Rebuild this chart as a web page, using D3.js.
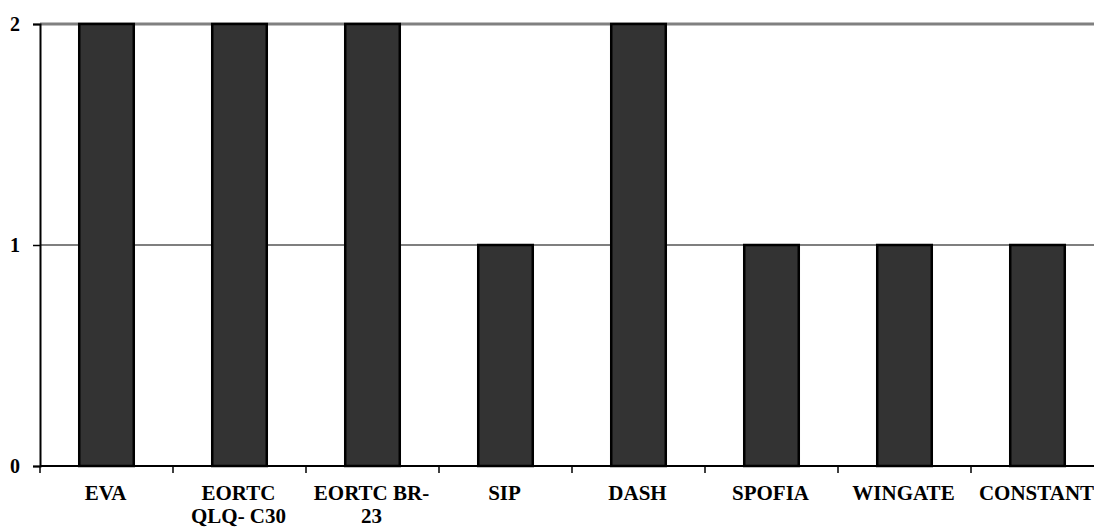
<!DOCTYPE html>
<html>
<head>
<meta charset="utf-8">
<script src="https://cdn.jsdelivr.net/npm/d3@7"></script>
<style>
  html, body { margin: 0; padding: 0; background: #fff; }
  svg { display: block; }
</style>
</head>
<body>
<svg id="chart" width="1094" height="527"></svg>
<script>
// Instruments and number of studies using each
const categories = ["EVA", "EORTC QLQ- C30", "EORTC BR-23", "SIP", "DASH", "SPOFIA", "WINGATE", "CONSTANT"];
const labelLines = [["EVA"], ["EORTC", "QLQ- C30"], ["EORTC BR-", "23"], ["SIP"], ["DASH"], ["SPOFIA"], ["WINGATE"], ["CONSTANT"]];
const values = [2, 2, 2, 1, 2, 1, 1, 1];
const yTicks = [0, 1, 2];

(function drawChart() {
  const font = "'Liberation Serif', 'Times New Roman', serif";
  const svg = d3.select("#chart");
  const m = { left: 40, right: 1104, top: 24, bottom: 466 };

  const x = d3.scaleBand().domain(categories).range([m.left, m.right]).paddingInner(0.59).paddingOuter(0.295);
  const xTicks = d3.scaleBand().domain(categories).range([m.left, m.right]);
  const y = d3.scaleLinear().domain([0, 2]).range([m.bottom, m.top]);

  // Horizontal gridlines (top one drawn grey and heavier)
  svg.append("g").selectAll("line").data(yTicks.filter(d => d > 0)).join("line")
    .attr("x1", m.left).attr("x2", 1094)
    .attr("y1", d => y(d)).attr("y2", d => y(d))
    .attr("stroke", d => d === 2 ? "#808080" : "#000")
    .attr("stroke-width", d => d === 2 ? 3 : 1.2);

  // Bars
  svg.append("g").selectAll("rect").data(values).join("rect")
    .attr("x", (d, i) => x(categories[i]))
    .attr("y", d => y(d))
    .attr("width", x.bandwidth())
    .attr("height", d => y(0) - y(d))
    .attr("fill", "#333333")
    .attr("stroke", "#000")
    .attr("stroke-width", 2.5);

  // Y axis
  const yAxis = svg.append("g").attr("transform", `translate(${m.left},0)`)
    .call(d3.axisLeft(y).tickValues(yTicks).tickFormat(d3.format("d")).tickSize(7).tickPadding(13));
  yAxis.select(".domain").attr("stroke", "#000").attr("stroke-width", 2);
  yAxis.selectAll(".tick line").attr("stroke", "#000").attr("stroke-width", 1.5);
  yAxis.selectAll(".tick text").attr("fill", "#000")
    .style("font-family", font).style("font-size", "20px").style("font-weight", "bold");

  // X axis baseline with ticks between categories
  const xg = svg.append("g");
  xg.append("line").attr("x1", m.left).attr("x2", 1094).attr("y1", m.bottom).attr("y2", m.bottom)
    .attr("stroke", "#000").attr("stroke-width", 2);
  xg.selectAll("line.tk").data(categories).join("line").attr("class", "tk")
    .attr("x1", d => xTicks(d)).attr("x2", d => xTicks(d))
    .attr("y1", m.bottom).attr("y2", m.bottom + 7)
    .attr("stroke", "#000").attr("stroke-width", 1.5);

  // Category labels, wrapped onto two lines where needed
  xg.selectAll("text").data(labelLines).join("text")
    .attr("text-anchor", "middle")
    .attr("fill", "#000")
    .style("font-family", font).style("font-size", "21px").style("font-weight", "bold")
    .attr("x", (d, i) => xTicks(categories[i]) + xTicks.bandwidth() / 2 - 1)
    .attr("y", 500)
    .selectAll("tspan").data(d => d).join("tspan")
    .attr("x", function() { return d3.select(this.parentNode).attr("x"); })
    .attr("dy", (d, i) => i === 0 ? 0 : 23)
    .text(d => d);
})();
</script>
</body>
</html>
